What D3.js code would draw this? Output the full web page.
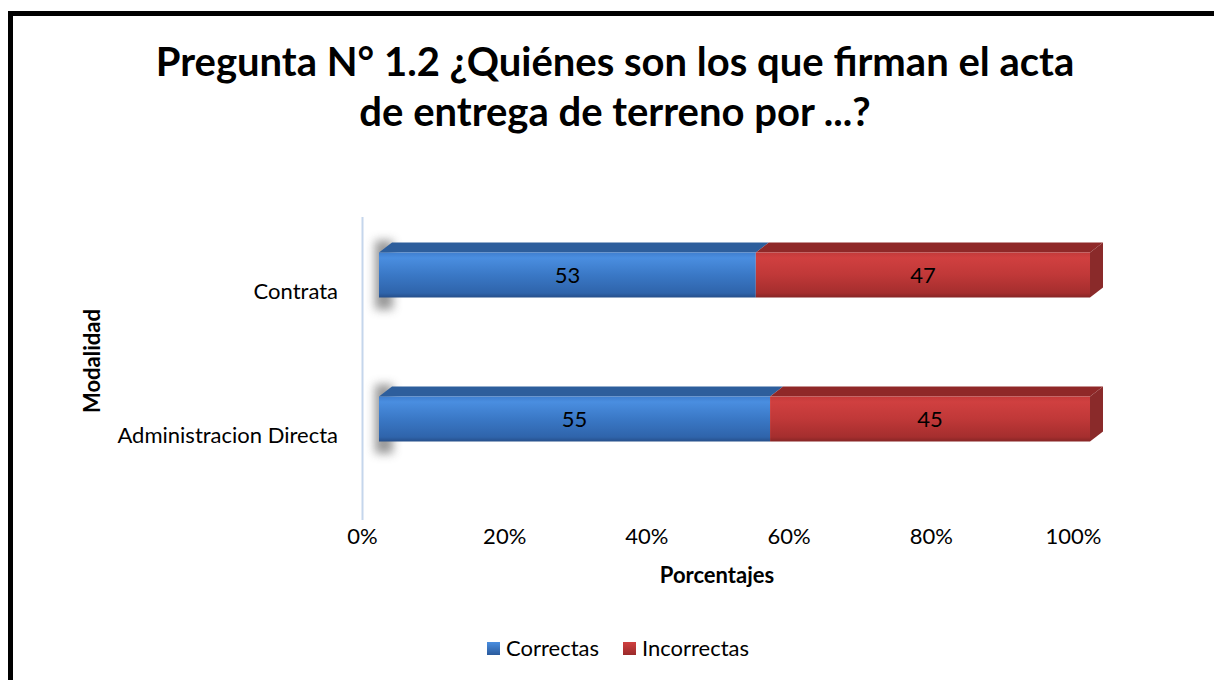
<!DOCTYPE html>
<meta charset="utf-8">
<style>
body { margin: 0; background: #fff; }
text { font-family: Lato, "Open Sans", sans-serif; fill: #000; }
</style>
<body>
<script src="https://cdn.jsdelivr.net/npm/d3@7"></script>
<script>

// data
var categories = ["Contrata", "Administracion Directa"];
var seriesNames = ["Correctas", "Incorrectas"];
var correctas = [53, 55];
var incorrectas = [47, 45];
var tickValues = [0, 20, 40, 60, 80, 100];

var W = 1214, H = 680;

var svg = d3.select("body").append("svg")
    .attr("width", W)
    .attr("height", H);

// gradients for the 3d look
var defs = svg.append("defs");
function grad(id, stops) {
  var g = defs.append("linearGradient").attr("id", id)
      .attr("x1", 0).attr("y1", 0).attr("x2", 0).attr("y2", 1);
  stops.forEach(function(s) {
    g.append("stop").attr("offset", s[0]).attr("stop-color", s[1]);
  });
}
grad("blueFront", [[0, "#3f7fd0"], [0.12, "#4a8ee0"], [0.5, "#3a78c6"], [0.9, "#2f64ab"], [1, "#264f8a"]]);
grad("redFront", [[0, "#c43a3a"], [0.12, "#d04040"], [0.5, "#c03838"], [0.9, "#a52e2e"], [1, "#862525"]]);
grad("blueKey", [[0, "#4a8ee0"], [1, "#2a5a9c"]]);
grad("redKey", [[0, "#d04040"], [1, "#9a2a2a"]]);
defs.append("filter").attr("id", "blur")
    .attr("x", "-100%").attr("y", "-50%").attr("width", "300%").attr("height", "200%")
  .append("feGaussianBlur").attr("stdDeviation", 5);

var colors = {
  Correctas: { front: "url(#blueFront)", top: "#2d5e9c", side: "#2a5590", key: "url(#blueKey)" },
  Incorrectas: { front: "url(#redFront)", top: "#8f2828", side: "#8a2a2a", key: "url(#redKey)" }
};

// frame
svg.append("rect")
    .attr("x", 10.5).attr("y", 13.5)
    .attr("width", 1230).attr("height", 700)
    .attr("fill", "none")
    .attr("stroke", "#000")
    .attr("stroke-width", 5);

// title
var title = svg.append("text")
    .attr("text-anchor", "middle")
    .style("font-weight", "bold")
    .style("font-size", "40px");
title.append("tspan").attr("x", 615).attr("y", 76)
    .text("Pregunta N° 1.2 ¿Quiénes son los que firman el acta");
title.append("tspan").attr("x", 615).attr("y", 126)
    .text("de entrega de terreno por ...?");

// scales
var x = d3.scaleLinear().domain([0, 100]).range([362, 1073]);
var y = d3.scaleBand().domain(categories).range([219, 507]).padding(0);

// 3d projection
var off = { x: 17, y: -16 };   // front face offset from the axis plane
var depth = { x: 13, y: -10 };
var barH = 45;

// y axis line
svg.append("line")
    .attr("x1", 362.5).attr("x2", 362.5)
    .attr("y1", 217).attr("y2", 520)
    .attr("stroke", "#c5d6ec")
    .attr("stroke-width", 2);

// x axis tick labels
var xAxis = svg.append("g")
    .attr("transform", "translate(0,544)")
    .call(d3.axisBottom(x).tickValues(tickValues).tickSize(0).tickPadding(0)
      .tickFormat(function(d) { return d + "%"; }));
xAxis.select(".domain").remove();
xAxis.selectAll("text")
    .style("font-family", "Lato, sans-serif")
    .style("font-size", "22px")
    .attr("fill", "#000")
    .attr("y", 0)
    .attr("dy", 0);

// category labels
svg.selectAll(".cat")
    .data(categories)
  .enter().append("text")
    .attr("class", "cat")
    .attr("x", 338)
    .attr("y", function(d) { return y(d) + y.bandwidth() / 2; })
    .attr("dy", "0.35em")
    .attr("text-anchor", "end")
    .style("font-size", "22px")
    .text(function(d) { return d; });

// stacked data
var rows = categories.map(function(c, i) {
  return { cat: c, Correctas: correctas[i], Incorrectas: incorrectas[i] };
});
var stack = d3.stack().keys(seriesNames)(rows);

// soft shadow at the left end of each bar
svg.selectAll(".shadow")
    .data(categories)
  .enter().append("rect")
    .attr("class", "shadow")
    .attr("x", x(0) + off.x - 4)
    .attr("y", function(d) { return y(d) + y.bandwidth() / 2 + off.y - barH / 2 - 12; })
    .attr("width", 18)
    .attr("height", barH + 24)
    .attr("fill", "#777")
    .attr("opacity", 0.75)
    .attr("filter", "url(#blur)");

stack.forEach(function(layer, li) {
  var key = layer.key;
  var g = svg.append("g").attr("class", "series");
  layer.forEach(function(d) {
    var cat = d.data.cat;
    var x0 = x(d[0]) + off.x, x1 = x(d[1]) + off.x;
    var yt = y(cat) + y.bandwidth() / 2 + off.y - barH / 2;
    // top face
    g.append("path")
        .attr("d", "M" + x0 + "," + yt + "L" + (x0 + depth.x) + "," + (yt + depth.y) +
          "L" + (x1 + depth.x) + "," + (yt + depth.y) + "L" + x1 + "," + yt + "Z")
        .attr("fill", colors[key].top);
    // front face
    g.append("rect")
        .attr("x", x0).attr("y", yt)
        .attr("width", x1 - x0).attr("height", barH)
        .attr("fill", colors[key].front);
    // right face on the last segment
    if (li === stack.length - 1) {
      g.append("path")
          .attr("d", "M" + x1 + "," + yt + "L" + (x1 + depth.x) + "," + (yt + depth.y) +
            "L" + (x1 + depth.x) + "," + (yt + depth.y + barH) + "L" + x1 + "," + (yt + barH) + "Z")
          .attr("fill", colors[key].side);
    }
    // value label
    g.append("text")
        .attr("x", (x0 + x1) / 2)
        .attr("y", yt + barH / 2)
        .attr("dy", "0.35em")
        .attr("text-anchor", "middle")
        .style("font-size", "22px")
        .text(d.data[key]);
  });
});

// axis titles
svg.append("text")
    .attr("transform", "translate(100,361) rotate(-90)")
    .attr("text-anchor", "middle")
    .style("font-weight", "bold")
    .style("font-size", "22px")
    .text("Modalidad");

svg.append("text")
    .attr("x", 717).attr("y", 583)
    .attr("text-anchor", "middle")
    .style("font-weight", "bold")
    .style("font-size", "22px")
    .text("Porcentajes");

// legend
var legend = svg.append("g").attr("transform", "translate(487,648)");
seriesNames.forEach(function(s, i) {
  var item = legend.append("g").attr("transform", "translate(" + (i * 136) + ",0)");
  item.append("rect")
      .attr("x", 0).attr("y", -6)
      .attr("width", 13).attr("height", 13)
      .attr("fill", colors[s].key);
  item.append("text")
      .attr("x", 19).attr("y", 0)
      .attr("dy", "0.35em")
      .style("font-size", "22px")
      .text(s);
});

</script>
</body>
